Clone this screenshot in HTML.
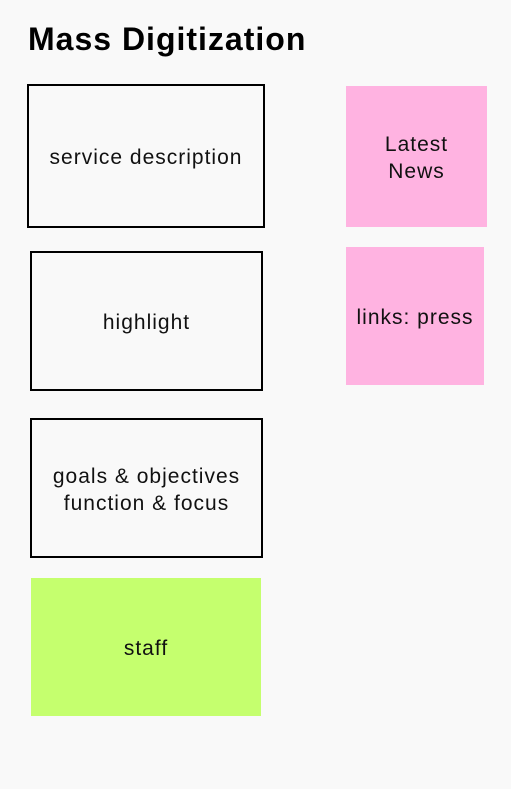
<!DOCTYPE html>
<html><head><meta charset="utf-8"><style>
body{margin:0;width:511px;height:789px;background:#f9f9f9;font-family:"Liberation Sans",sans-serif;position:relative;overflow:hidden}
.t{position:absolute;left:28px;top:21px;font-size:32px;font-weight:bold;color:#000;letter-spacing:1px}
.b{position:absolute;box-sizing:border-box;display:flex;align-items:center;justify-content:center;text-align:center;font-size:21px;color:#111;line-height:27px;letter-spacing:1px;padding-top:3px}
.o{border:2px solid #000}
.p{background:#ffb3e1}
.g{background:#c5ff6e}
</style></head><body>
<div class="t">Mass Digitization</div>
<div class="b o" style="left:27px;top:84px;width:238px;height:144px">service description</div>
<div class="b o" style="left:30px;top:251px;width:233px;height:140px">highlight</div>
<div class="b o" style="left:30px;top:418px;width:233px;height:140px">goals &amp; objectives<br>function &amp; focus</div>
<div class="b g" style="left:31px;top:578px;width:230px;height:138px">staff</div>
<div class="b p" style="left:346px;top:86px;width:141px;height:141px">Latest<br>News</div>
<div class="b p" style="left:346px;top:247px;width:138px;height:138px">links: press</div>
</body></html>
